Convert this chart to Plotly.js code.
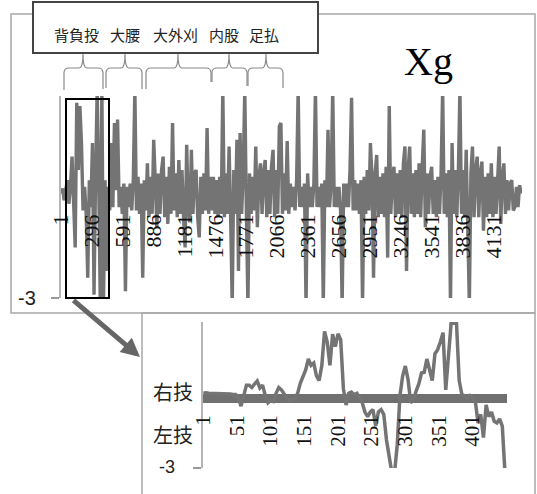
<!DOCTYPE html>
<html><head><meta charset="utf-8">
<script src="https://cdn.plot.ly/plotly-3.0.1.min.js"></script>
<style>html,body{margin:0;padding:0;background:#fff;}#chart{width:537px;height:494px;}</style>
</head><body><div id="chart"></div>
<script>
// ---- data ----
const mainTickLabels = ['1','296','591','886','1181','1476','1771','2066','2361','2656','2951','3246','3541','3836','4131'];
const mainStep = 15; // sample spacing (record index) of mainValues
const mainValues = [
 0.1,0.25,-0.1,0.2,0.5,-0.2,0.3,1.2,-0.3,-1.5,
 2.8,0.8,2.7,1.6,-0.4,0.3,-0.5,-2.4,0.5,-0.3,
 1.6,-2.9,0.6,3.2,0.4,-3.2,3.2,-3.2,0.5,-2.2,
 0.3,-0.4,1.6,-0.3,2.2,0.2,2.3,-0.3,0.3,-0.5,
 0.4,-2.8,0.3,-0.3,0.4,-0.4,0.5,3.2,-0.4,0.6,
 -0.5,0.4,-2.4,0.5,-0.4,1.0,-0.6,0.6,-0.5,1.7,
 0.5,-0.9,0.7,-0.5,0.8,1.2,-0.6,0.6,-0.8,0.9,
 -0.5,2.2,-0.4,0.7,-0.6,1.1,-0.5,0.8,-0.6,-1.5,
 1.55,-0.4,-0.75,1.4,-0.5,0.7,0.8,-0.6,-1.2,0.6,
 -0.5,0.7,-0.4,2.05,-0.5,0.6,-0.4,0.6,-0.5,0.5,
 -0.6,0.6,-0.5,3.2,-0.6,0.7,-0.5,1.5,-0.6,-3.2,
 0.8,-0.5,1.7,-2.2,1.9,-0.5,0.7,3.2,-0.4,-3.2,
 0.7,-0.5,0.6,-0.4,1.5,-0.9,0.6,1.0,-0.5,0.7,
 1.1,-0.6,0.8,-0.5,0.9,1.4,-0.6,0.8,-0.5,2.1,
 2.2,-0.5,0.7,-0.4,1.66,-0.5,0.4,-0.3,0.3,-0.4,
 0.5,3.2,-0.3,0.3,-0.3,0.4,-3.2,0.7,-0.3,0.3,
 -0.3,0.4,3.2,-0.3,0.3,-0.3,0.4,-3.2,0.5,-0.3,
 2.0,-0.3,0.4,3.2,-0.3,0.3,-0.3,0.3,-0.4,-3.2,
 0.4,-0.3,0.4,-0.3,0.8,2.95,-0.4,0.5,-0.4,0.4,
 -0.5,0.5,-3.2,0.6,-0.5,0.8,-0.4,1.6,0.6,-2.4,
 0.7,1.25,-0.6,0.6,-0.5,0.7,-0.6,0.9,-1.8,2.7,
 -0.5,0.6,0.9,-0.6,0.7,-0.5,0.8,-0.6,1.0,1.5,
 -2.2,0.8,1.5,-0.5,0.7,-0.6,0.8,-0.5,1.0,-0.6,
 0.9,2.0,-0.9,0.7,-0.5,0.6,0.9,-0.5,0.5,-0.6,
 0.6,-0.5,0.7,3.2,-0.5,0.7,-0.6,0.8,-3.2,1.6,
 -0.5,0.8,-0.6,0.7,3.2,-0.5,0.8,-0.6,1.4,-0.5,
 -3.2,0.7,1.5,-0.6,0.8,1.2,-0.6,0.7,1.05,-1.0,
 0.6,-0.6,0.7,-0.5,1.0,-0.6,0.6,-0.5,0.7,1.5,
 -0.8,0.6,1.0,-0.5,0.5,-0.4,0.4,0.5,-0.4,-0.3,
 0.3,-0.3,0.35,0.1
];
const insetTickLabels = ['1','51','101','151','201','251','301','351','401'];
const insetStep = 4;
const insetValues = [
 0.2,0.22,0.2,0.2,0.18,0.2,0.18,0.18,0.17,0.17,
 0.17,0.15,0.15,0.0,-0.35,0.1,0.55,0.55,0.45,0.6,
 0.73,0.43,0.55,0.1,-0.2,-0.1,-0.15,0.2,0.45,0.35,
 0.15,0.0,-0.1,-0.1,0.0,0.2,0.63,0.95,1.2,1.67,
 1.4,1.5,0.95,0.75,1.4,2.85,2.4,1.4,2.74,2.2,
 2.75,2.5,0.4,-0.3,0.2,0.25,0.15,0.2,0.0,-0.2,
 -0.6,-0.8,-0.6,-0.5,-1.2,-0.6,-0.5,-0.7,-1.8,-2.6,
 -3.2,-3.2,-2.0,0.1,0.94,1.37,0.8,-0.2,-0.1,0.3,
 0.6,1.07,1.1,1.67,1.2,0.75,1.9,2.07,2.4,2.8,
 0.35,1.8,3.2,3.2,3.2,0.75,0.15,0.1,0.0,0.1,
 0.0,-0.15,-1.07,-0.7,-1.7,-0.3,-0.8,-0.6,-1.0,-1.07,
 -0.9,-1.2,-3.2
];
const techniqueLabels = ['背負投','大腰','大外刈','内股','足払'];
const insetYLabels = ['右技','左技'];
const chartLabel = 'Xg';

// ---- layout helpers (pixel -> paper) ----
const W = 537, H = 494;
const px = x => x / W;
const py = y => 1 - y / H;

const mainX = mainValues.map((_, i) => 1 + i * mainStep);
const insetX = insetValues.map((_, i) => 1 + i * insetStep);

const lineColor = '#747474';
const traces = [
  {x: mainX, y: mainValues, type: 'scatter', mode: 'lines', xaxis: 'x', yaxis: 'y',
   line: {color: lineColor, width: 3.4}, hoverinfo: 'skip'},
  {x: insetX, y: insetValues, type: 'scatter', mode: 'lines', xaxis: 'x2', yaxis: 'y2',
   line: {color: lineColor, width: 3.5}, hoverinfo: 'skip'}
];

function bracePath(xl, xt, xr, ybl, ybr) {
  const yh = 68, yt = 54;
  const P = (x, y) => px(x).toFixed(5) + ',' + py(y).toFixed(5);
  return 'M' + P(xl, ybl) + ' L' + P(xl, yh + 5) + ' Q' + P(xl, yh) + ' ' + P(xl + 5, yh) +
    ' L' + P(xt - 4, yh) + ' Q' + P(xt, yh) + ' ' + P(xt, yt) +
    ' Q' + P(xt, yh) + ' ' + P(xt + 4, yh) + ' L' + P(xr - 5, yh) +
    ' Q' + P(xr, yh) + ' ' + P(xr, yh + 5) + ' L' + P(xr, ybr);
}
const braces = [
  [64, 83, 103, 90, 89], [106, 125, 142, 88, 89], [146, 178, 211, 89, 82],
  [212, 229, 247, 82, 86], [248, 266, 283, 86, 88]
];

const rectPx = (x0, y0, x1, y1, line, fill, layer) => ({
  type: 'rect', xref: 'paper', yref: 'paper', x0: px(x0), x1: px(x1), y0: py(y1), y1: py(y0),
  line: line, fillcolor: fill || 'rgba(0,0,0,0)', layer: layer || 'above'
});

const shapes = [
  rectPx(11, 14, 535, 313, {color: '#a8a8a8', width: 1.5}),
  rectPx(142, 313, 535, 520, {color: '#a8a8a8', width: 1.5}),
  rectPx(33, 2, 318, 53, {color: '#444', width: 2}, '#ffffff'),
  rectPx(66, 99, 109, 298, {color: '#000', width: 2})
].concat(braces.map(b => ({
  type: 'path', xref: 'paper', yref: 'paper', path: bracePath(...b),
  line: {color: '#8a8a8a', width: 1.2}, layer: 'above'
})));

const labelCenters = [76, 125, 175, 224, 264];
const annotations = techniqueLabels.map((t, i) => ({
  text: t, xref: 'paper', yref: 'paper', x: px(labelCenters[i]), y: py(35),
  xanchor: 'center', yanchor: 'middle', showarrow: false,
  font: {family: 'Noto Sans CJK JP', size: 15, color: '#222'}
}));
annotations.push(
  {text: chartLabel, xref: 'paper', yref: 'paper', x: px(428), y: py(62), xanchor: 'center', yanchor: 'middle',
   showarrow: false, font: {family: 'Liberation Serif', size: 40, color: '#000'}},
  {text: '-3', xref: 'paper', yref: 'paper', x: px(38), y: py(298), xanchor: 'right', yanchor: 'middle',
   showarrow: false, font: {family: 'Liberation Sans', size: 20, color: '#222'}},
  {text: insetYLabels[0], xref: 'paper', yref: 'paper', x: px(195), y: py(391), xanchor: 'right', yanchor: 'middle',
   showarrow: false, font: {family: 'Noto Sans CJK JP', size: 20, color: '#222'}},
  {text: insetYLabels[1], xref: 'paper', yref: 'paper', x: px(195), y: py(434), xanchor: 'right', yanchor: 'middle',
   showarrow: false, font: {family: 'Noto Sans CJK JP', size: 20, color: '#222'}},
  {text: '-3', xref: 'paper', yref: 'paper', x: px(177), y: py(467), xanchor: 'right', yanchor: 'middle',
   showarrow: false, font: {family: 'Liberation Sans', size: 18, color: '#222'}},
  {text: '', xref: 'paper', yref: 'paper', x: px(140), y: py(357), axref: 'pixel', ayref: 'pixel',
   ax: -68, ay: -58, showarrow: true, arrowhead: 2, arrowsize: 0.75, arrowwidth: 5, arrowcolor: '#666'}
);

const tickFont = {family: 'Liberation Serif, Times New Roman, serif', size: 22, color: '#111'};
const layout = {
  width: W, height: H, margin: {l: 0, r: 0, t: 0, b: 0},
  paper_bgcolor: '#fff', plot_bgcolor: 'rgba(0,0,0,0)', showlegend: false,
  xaxis: {domain: [px(61), px(522)], range: [0.5, 4404], anchor: 'free', position: py(197),
    tickmode: 'array', tickvals: mainTickLabels.map(Number), ticktext: mainTickLabels,
    tickangle: -90, ticks: '', showline: false, showgrid: false, zeroline: false,
    tickfont: tickFont, ticklabelstandoff: 12},
  yaxis: {domain: [py(298), py(96)], range: [-3, 3], anchor: 'x',
    tickmode: 'array', tickvals: [-3], showticklabels: false, ticks: 'outside', ticklen: 8,
    tickcolor: '#999', tickwidth: 2, showline: true, linecolor: '#b5b5b5', linewidth: 2,
    showgrid: true, gridcolor: '#999', gridwidth: 2, zeroline: false},
  xaxis2: {domain: [px(203), px(507)], range: [0.5, 452], anchor: 'free', position: py(398),
    tickmode: 'array', tickvals: insetTickLabels.map(Number), ticktext: insetTickLabels,
    tickangle: -90, ticks: '', showline: false, showgrid: false, zeroline: false,
    tickfont: {family: 'Liberation Serif, Times New Roman, serif', size: 21, color: '#111'}, ticklabelstandoff: 12},
  yaxis2: {domain: [py(468), py(322)], range: [-3, 3.257], anchor: 'x2',
    tickmode: 'array', tickvals: [-3], showticklabels: false, ticks: 'outside', ticklen: 8,
    tickcolor: '#999', tickwidth: 2, showline: true, linecolor: '#b5b5b5', linewidth: 2,
    showgrid: true, gridcolor: '#999', gridwidth: 2,
    zeroline: true, zerolinecolor: '#707070', zerolinewidth: 9},
  shapes: shapes, annotations: annotations
};
Plotly.newPlot('chart', traces, layout, {staticPlot: true, displayModeBar: false});
</script></body></html>
